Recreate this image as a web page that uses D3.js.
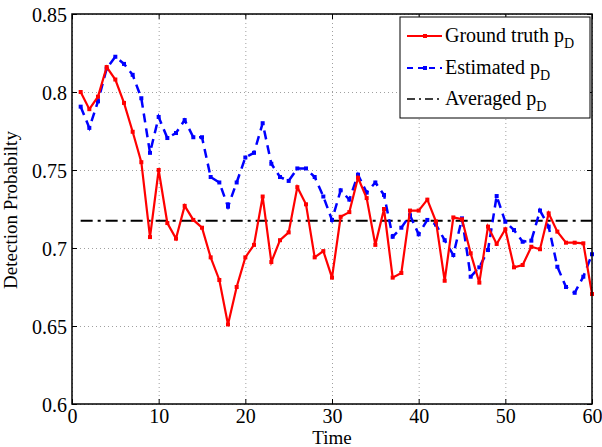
<!DOCTYPE html>
<html>
<head>
<meta charset="utf-8">
<script src="https://cdn.jsdelivr.net/npm/d3@7"></script>
<style>
	body { margin: 0; background: #fff; }
	svg text { font-family: "Liberation Serif", "Times New Roman", serif; fill: #000; }
</style>
</head>
<body>
<div id="chart"></div>
<script>
// time steps 1..60
var times = d3.range(1, 61)

var groundTruth = [0.800, 0.789, 0.797, 0.816, 0.808, 0.793, 0.7745, 0.755, 0.707, 0.750,
	0.716, 0.706, 0.727, 0.718, 0.713, 0.694, 0.6795, 0.651, 0.675, 0.694,
	0.702, 0.733, 0.691, 0.705, 0.710, 0.739, 0.728, 0.694, 0.698, 0.681,
	0.720, 0.723, 0.745, 0.732, 0.702, 0.725, 0.681, 0.684, 0.724, 0.724,
	0.731, 0.717, 0.679, 0.7196, 0.7184, 0.6966, 0.6778, 0.7137, 0.7026, 0.712,
	0.6876, 0.6891, 0.7008, 0.6992, 0.7222, 0.7105, 0.7034, 0.7034, 0.703, 0.6705]

var estimated = [0.7906, 0.777, 0.794, 0.815, 0.8226, 0.818, 0.811, 0.796, 0.761, 0.784,
	0.7705, 0.7737, 0.782, 0.771, 0.771, 0.7455, 0.742, 0.7265, 0.742, 0.758,
	0.761, 0.780, 0.754, 0.7455, 0.743, 0.751, 0.751, 0.7455, 0.733, 0.718,
	0.737, 0.731, 0.747, 0.7355, 0.742, 0.734, 0.7072, 0.713, 0.721, 0.7088,
	0.718, 0.715, 0.705, 0.6955, 0.719, 0.6816, 0.6876, 0.6987, 0.7333, 0.7168,
	0.7115, 0.704, 0.7047, 0.724, 0.7137, 0.688, 0.675, 0.6713, 0.6816, 0.696]

var averaged = 0.7175

var xTicks = [0, 10, 20, 30, 40, 50, 60]
var yTicks = [0.6, 0.65, 0.7, 0.75, 0.8, 0.85]
var yTickLabels = ["0.6", "0.65", "0.7", "0.75", "0.8", "0.85"]
var legendNames = ["Ground truth p", "Estimated p", "Averaged p"]

var margin = {top: 14, right: 10, bottom: 43, left: 72},
    width = 602 - margin.left - margin.right,
    height = 447 - margin.top - margin.bottom;

var svg = d3.select("#chart").append("svg")
	.attr("width", 602)
	.attr("height", 447)
  .append("g")
	.attr("transform", "translate(" + margin.left + "," + margin.top + ")");

var x = d3.scaleLinear().domain([0, 60]).range([0, width]);
var y = d3.scaleLinear().domain([0.6, 0.85]).range([height, 0]);

// grid
svg.append("g")
	.attr("class", "grid")
	.attr("transform", "translate(0," + height + ")")
	.call(d3.axisBottom(x).tickValues(xTicks).tickSize(-height).tickFormat(""))
svg.append("g")
	.attr("class", "grid")
	.call(d3.axisLeft(y).tickValues(yTicks).tickSize(-width).tickFormat(""))
svg.selectAll(".grid .domain").remove()
svg.selectAll(".grid line")
	.attr("stroke", "#a0a0a0")
	.attr("stroke-width", 1)
	.attr("stroke-dasharray", "1,3")

// averaged line
svg.append("line")
	.attr("x1", x(1))
	.attr("x2", x(60))
	.attr("y1", y(averaged))
	.attr("y2", y(averaged))
	.attr("stroke", "#000")
	.attr("stroke-width", 2)
	.attr("stroke-dasharray", "12,5,3,5")

var line = d3.line()
	.x(function(d){ return x(d[0]) })
	.y(function(d){ return y(d[1]) })

var estPts = times.map(function(t, i){ return [t, estimated[i]] })
var gtPts = times.map(function(t, i){ return [t, groundTruth[i]] })

svg.append("path")
	.datum(estPts)
	.attr("d", line)
	.attr("fill", "none")
	.attr("stroke", "#0000ff")
	.attr("stroke-width", 2.5)
	.attr("stroke-dasharray", "9,6")

svg.selectAll(".estDot")
	.data(estPts)
	.enter().append("rect")
	.attr("x", function(d){ return x(d[0]) - 2 })
	.attr("y", function(d){ return y(d[1]) - 2 })
	.attr("width", 4)
	.attr("height", 4)
	.attr("fill", "#0000ff")

svg.append("path")
	.datum(gtPts)
	.attr("d", line)
	.attr("fill", "none")
	.attr("stroke", "#ff0000")
	.attr("stroke-width", 2.2)

svg.selectAll(".gtDot")
	.data(gtPts)
	.enter().append("rect")
	.attr("x", function(d){ return x(d[0]) - 2 })
	.attr("y", function(d){ return y(d[1]) - 2 })
	.attr("width", 4)
	.attr("height", 4)
	.attr("fill", "#ff0000")

// frame + axes
svg.append("rect")
	.attr("width", width)
	.attr("height", height)
	.attr("fill", "none")
	.attr("stroke", "#000")
	.attr("stroke-width", 1.5)

var xAxis = svg.append("g")
	.attr("transform", "translate(0," + height + ")")
	.call(d3.axisBottom(x).tickValues(xTicks).tickSize(-5).tickPadding(3).tickFormat(d3.format("d")))
var xTop = svg.append("g")
	.call(d3.axisTop(x).tickValues(xTicks).tickSize(-5).tickFormat(""))
var yAxis = svg.append("g")
	.call(d3.axisLeft(y).tickValues(yTicks).tickSize(-5).tickPadding(5)
		.tickFormat(function(d, i){ return yTickLabels[i] }))
var yRight = svg.append("g")
	.attr("transform", "translate(" + width + ",0)")
	.call(d3.axisRight(y).tickValues(yTicks).tickSize(-5).tickFormat(""))

svg.selectAll(".domain").remove()
svg.selectAll(".tick line").filter(function(){ return !this.parentNode.parentNode.classList.contains("grid") })
	.attr("stroke", "#000")
	.attr("stroke-width", 1)
svg.selectAll(".tick text")
	.style("font-size", "20px")
	.style("font-family", "'Liberation Serif', 'Times New Roman', serif")
xAxis.selectAll(".tick text").attr("dy", "0.78em")
yAxis.selectAll(".tick text").attr("dy", "0.35em")

// axis titles
svg.append("text")
	.attr("x", width / 2)
	.attr("y", height + 40)
	.attr("text-anchor", "middle")
	.style("font-size", "19px")
	.text("Time")

svg.append("text")
	.attr("transform", "translate(" + (-55) + "," + (210 - margin.top) + ") rotate(-90)")
	.attr("text-anchor", "middle")
	.style("font-size", "19px")
	.text("Detection Probabilty")

// legend
var legend = svg.append("g")
	.attr("transform", "translate(" + (400 - margin.left) + "," + (17 - margin.top) + ")")

legend.append("rect")
	.attr("width", 190)
	.attr("height", 101)
	.attr("fill", "#fff")
	.attr("stroke", "#000")
	.attr("stroke-width", 1)

var rowY = [19, 51, 82]
var legendColors = ["#ff0000", "#0000ff", "#000"]
var legendDash = [null, "6,5", "8,4,2,4"]

legendNames.forEach(function(name, i){
	legend.append("line")
		.attr("x1", 7).attr("x2", 42)
		.attr("y1", rowY[i]).attr("y2", rowY[i])
		.attr("stroke", legendColors[i])
		.attr("stroke-width", i == 2 ? 1.5 : 2)
		.attr("stroke-dasharray", legendDash[i])
	if(i < 2){
		legend.append("rect")
			.attr("x", 23).attr("y", rowY[i] - 2)
			.attr("width", 4).attr("height", 4)
			.attr("fill", legendColors[i])
	}
	var t = legend.append("text")
		.attr("x", 45)
		.attr("y", rowY[i] + 6)
		.style("font-size", "20px")
	t.append("tspan").text(name)
	t.append("tspan")
		.attr("dy", 6)
		.style("font-size", "14px")
		.text("D")
})
</script>
</body>
</html>
